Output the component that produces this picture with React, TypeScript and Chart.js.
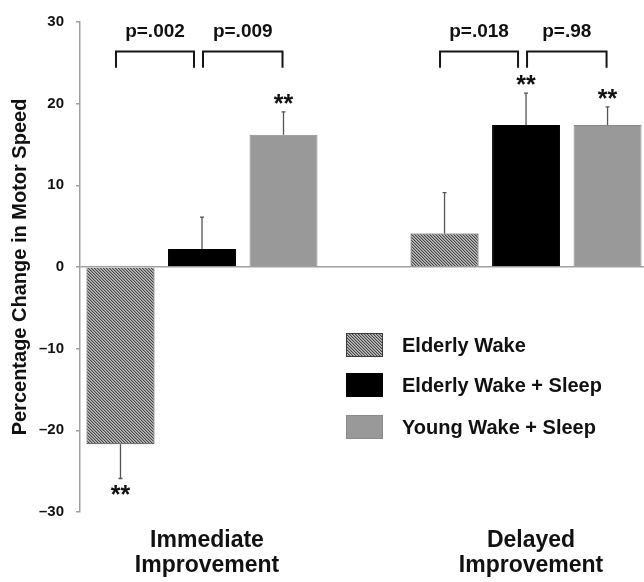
import React, { useEffect, useRef } from 'react';
import { Chart, registerables } from 'chart.js';

Chart.register(...registerables);

// ---------- data ----------
const categories: string[][] = [['Immediate', 'Improvement'], ['Delayed', 'Improvement']];
const categoryPositions = [1, 2];
const seriesNames = ['Elderly Wake', 'Elderly Wake + Sleep', 'Young Wake + Sleep'];
const elderlyWake = [-21.7, 4.1];
const elderlyWakeSleep = [2.2, 17.4];
const youngWakeSleep = [16.2, 17.4];
const elderlyWakeErr = [4.2, 5.0];
const elderlyWakeSleepErr = [3.9, 3.9];
const youngWakeSleepErr = [2.8, 2.2];
const elderlyWakeSig = ['**', ''];
const elderlyWakeSleepSig = ['', '**'];
const youngWakeSleepSig = ['**', '**'];
const comparisonGroups = [0, 0, 1, 1];
const comparisonFrom = [0, 1, 0, 1];
const comparisonTo = [1, 2, 1, 2];
const comparisonLabels = ['p=.002', 'p=.009', 'p=.018', 'p=.98'];
const bracketTop = 26.4;
const bracketBottom = 24.4;
const pLabelValue = 28.2;
const yMin = -30;
const yMax = 30;
const yStep = 10;
const yTitle = 'Percentage Change in Motor Speed';
const xMin = 0.6235;
const xMax = 2.364;

const FONT = '"Liberation Sans", Arial, Helvetica, sans-serif';
const TEXT = '#111111';
const AXIS = '#a0a0a0';

function makeHatch(): CanvasPattern | string {
  const c = document.createElement('canvas');
  c.width = 3;
  c.height = 3;
  const g = c.getContext('2d');
  if (!g) return '#8c8c8c';
  const img = g.createImageData(3, 3);
  for (let y = 0; y < 3; y++) {
    for (let x = 0; x < 3; x++) {
      const d = ((x - y) % 3 + 3) % 3;
      const v = d === 0 ? 70 : d === 1 ? 150 : 190;
      const k = (y * 3 + x) * 4;
      img.data[k] = v; img.data[k + 1] = v; img.data[k + 2] = v; img.data[k + 3] = 255;
    }
  }
  g.putImageData(img, 0, 0);
  const p = g.createPattern(c, 'repeat');
  return p || '#8c8c8c';
}

export default function App() {
  const ref = useRef<HTMLCanvasElement | null>(null);

  useEffect(() => {
    const canvas = ref.current;
    if (!canvas) return;
    const hatch = makeHatch();
    const values = [elderlyWake, elderlyWakeSleep, youngWakeSleep];
    const errs = [elderlyWakeErr, elderlyWakeSleepErr, youngWakeSleepErr];
    const sigs = [elderlyWakeSig, elderlyWakeSleepSig, youngWakeSleepSig];
    const fills: (CanvasPattern | string)[] = [hatch, '#000000', '#999999'];
    const borders = ['#3a3a3a', '#000000', '#8a8a8a'];

    const annotate = {
      id: 'annotate',
      afterDatasetsDraw(chart: any) {
        const ctx: CanvasRenderingContext2D = chart.ctx;
        const ys = chart.scales.y;
        ctx.save();
        // error bars and significance stars
        values.forEach((vals, di) => {
          const meta = chart.getDatasetMeta(di);
          meta.data.forEach((bar: any, i: number) => {
            const v = vals[i];
            const e = errs[di][i];
            const end = v >= 0 ? v + e : v - e;
            const x = bar.x;
            const y0 = ys.getPixelForValue(v);
            const y1 = ys.getPixelForValue(end);
            ctx.strokeStyle = '#555555';
            ctx.lineWidth = 1.3;
            ctx.beginPath();
            ctx.moveTo(x, y0);
            ctx.lineTo(x, y1);
            ctx.moveTo(x - 2, y1);
            ctx.lineTo(x + 2, y1);
            ctx.stroke();
            const s = sigs[di][i];
            if (s) {
              ctx.font = `bold 25px ${FONT}`;
              ctx.fillStyle = TEXT;
              ctx.textAlign = 'center';
              ctx.textBaseline = 'alphabetic';
              const m = ctx.measureText(s);
              const asc = m.actualBoundingBoxAscent;
              const desc = m.actualBoundingBoxDescent;
              if (v >= 0) {
                const bottom = y1 - 8;
                ctx.fillText(s, x, bottom - desc);
              } else {
                const top = y1 + 6;
                ctx.fillText(s, x, top + asc);
              }
            }
          });
        });
        // comparison brackets
        comparisonLabels.forEach((label, k) => {
          const g = comparisonGroups[k];
          const a = chart.getDatasetMeta(comparisonFrom[k]).data[g];
          const b = chart.getDatasetMeta(comparisonTo[k]).data[g];
          const left = comparisonFrom[k] === 0 ? a.x - 4.5 : a.x + 1;
          const right = comparisonFrom[k] === 0 ? b.x - 8 : b.x - 1;
          const yt = ys.getPixelForValue(bracketTop);
          const yb = ys.getPixelForValue(bracketBottom);
          ctx.strokeStyle = '#151515';
          ctx.lineWidth = 2;
          ctx.lineJoin = 'miter';
          ctx.beginPath();
          ctx.moveTo(left, yb);
          ctx.lineTo(left, yt);
          ctx.lineTo(right, yt);
          ctx.lineTo(right, yb);
          ctx.stroke();
          ctx.font = `bold 19px ${FONT}`;
          ctx.fillStyle = TEXT;
          ctx.textAlign = 'center';
          ctx.textBaseline = 'alphabetic';
          ctx.fillText(label, (left + right) / 2, ys.getPixelForValue(pLabelValue));
        });
        ctx.restore();
      },
      afterDraw(chart: any) {
        const ctx: CanvasRenderingContext2D = chart.ctx;
        const area = chart.chartArea;
        ctx.save();
        const lx = area.left + 266;
        const rowTops = [333, 373, 415];
        chart.data.datasets.forEach((ds: any, i: number) => {
          const top = rowTops[i];
          ctx.fillStyle = ds.backgroundColor;
          ctx.fillRect(lx, top, 37, 24);
          ctx.strokeStyle = ds.borderColor;
          ctx.lineWidth = 1;
          ctx.strokeRect(lx + 0.5, top + 0.5, 36, 23);
          ctx.font = `bold 20px ${FONT}`;
          ctx.fillStyle = TEXT;
          ctx.textAlign = 'left';
          ctx.textBaseline = 'middle';
          ctx.fillText(ds.label, lx + 56, top + 13);
        });
        ctx.restore();
      },
    };

    const chart = new Chart(canvas, {
      type: 'bar',
      data: {
        datasets: seriesNames.map((name, di) => ({
          label: name,
          data: values[di].map((v, i) => ({ x: categoryPositions[i], y: v })),
          backgroundColor: fills[di] as any,
          borderColor: borders[di],
          borderWidth: 1,
          categoryPercentage: 0.7546,
          barPercentage: 0.834,
        })),
      },
      options: {
        responsive: false,
        animation: false,
        events: [],
        layout: { padding: { top: 22, right: 0, bottom: 0, left: 0 } },
        plugins: {
          legend: { display: false },
          tooltip: { enabled: false },
          title: { display: false },
        },
        scales: {
          x: {
            type: 'linear',
            min: xMin,
            max: xMax,
            offset: false,
            grid: { display: false, drawTicks: false },
            border: { display: false },
            afterBuildTicks: (scale: any) => {
              scale.ticks = categoryPositions.map((v) => ({ value: v }));
            },
            afterFit: (scale: any) => {
              scale.height = 70;
            },
            ticks: {
              autoSkip: false,
              maxRotation: 0,
              minRotation: 0,
              padding: 16,
              labelOffset: 5,
              color: TEXT,
              font: { family: FONT, size: 23, weight: 'bold', lineHeight: 1.1 },
              callback: (value: any) => {
                const idx = categoryPositions.indexOf(Number(value));
                return idx >= 0 ? categories[idx] : '';
              },
            },
          },
          y: {
            type: 'linear',
            min: yMin,
            max: yMax,
            afterFit: (scale: any) => {
              scale.width = 80;
            },
            border: { display: true, color: AXIS, width: 1.5 },
            grid: {
              color: (c: any) => (c.tick && c.tick.value === 0 ? AXIS : 'rgba(0,0,0,0)'),
              tickColor: AXIS,
              lineWidth: 1.5,
              tickLength: 4,
              drawTicks: true,
            },
            ticks: {
              stepSize: yStep,
              padding: 12,
              color: TEXT,
              font: { family: FONT, size: 15, weight: 'bold' },
              callback: (value: any) => {
                const n = Number(value);
                return n < 0 ? '\u2013' + Math.abs(n) : String(n);
              },
            },
            title: {
              display: true,
              text: yTitle,
              color: TEXT,
              padding: { top: 8, bottom: 0 },
              font: { family: FONT, size: 20, weight: 'bold' },
            },
          },
        },
      },
      plugins: [annotate],
    } as any);

    return () => {
      chart.destroy();
    };
  }, []);

  return (
    <div style={{ position: 'fixed', left: 0, top: 0, width: 644, height: 582, background: '#ffffff' }}>
      <canvas ref={ref} width={644} height={582} style={{ width: 644, height: 582, display: 'block' }} />
    </div>
  );
}
